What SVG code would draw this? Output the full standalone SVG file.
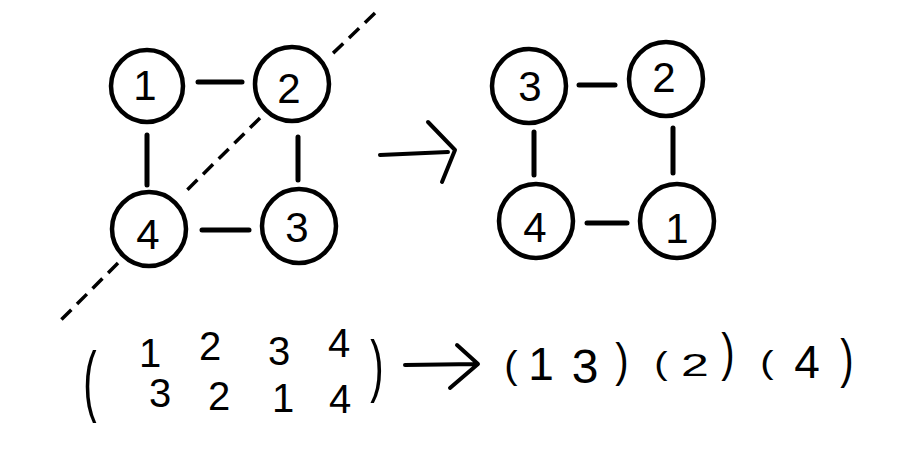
<svg xmlns="http://www.w3.org/2000/svg" width="919" height="457" viewBox="0 0 919 457">
<style>
.node{fill:none;stroke:#000;stroke-width:4.5}
.edge{stroke:#000;stroke-width:5;stroke-linecap:round;fill:none}
.dash{stroke:#000;stroke-width:3.5;stroke-dasharray:14 8;fill:none}
.arrow{stroke:#000;stroke-width:4;fill:none;stroke-linecap:round;stroke-linejoin:round}
.lbl{font-family:"Liberation Sans",Arial,sans-serif;font-size:42px;fill:#000;text-anchor:middle}
.m{font-family:"Liberation Sans",Arial,sans-serif;font-size:40px;fill:#000;text-anchor:middle}
.p{font-family:"Liberation Sans",Arial,sans-serif;font-size:40px;fill:#000;text-anchor:middle}
</style>
<rect width="919" height="457" fill="#fff"/>
<g id="connectors">
  <line class="edge" x1="198" y1="82" x2="242" y2="82"/>
  <line class="edge" x1="147" y1="135" x2="147" y2="185"/>
  <line class="edge" x1="298" y1="137" x2="298" y2="180"/>
  <line class="edge" x1="202" y1="230" x2="249" y2="230"/>
  <line class="edge" x1="579" y1="85" x2="615" y2="85"/>
  <line class="edge" x1="534" y1="132" x2="534" y2="175"/>
  <line class="edge" x1="673" y1="128" x2="673" y2="173"/>
  <line class="edge" x1="587" y1="223" x2="627" y2="223"/>
  <path class="dash" d="M375 13 L328 58"/>
  <path class="dash" d="M260 118 L182 195"/>
  <path class="dash" d="M118 263 L58 323"/>
  <path class="arrow" d="M380 155 L448 152 M428 122 L455 150 L442 182"/>
  <path class="arrow" d="M405 365 L477 364 M457 345 L478 364 L450 388"/>
</g>
<g id="n1"><circle class="node" cx="147" cy="86" r="36"/><text class="lbl" x="145" y="100">1</text></g>
<g id="n2"><circle class="node" cx="292" cy="84" r="37"/><text class="lbl" x="289" y="103">2</text></g>
<g id="n4"><circle class="node" cx="149" cy="229" r="37"/><text class="lbl" x="148" y="249">4</text></g>
<g id="n3"><circle class="node" cx="299" cy="226" r="37"/><text class="lbl" x="297" y="242">3</text></g>
<g id="r3"><circle class="node" cx="529" cy="86" r="37"/><text class="lbl" x="530" y="101">3</text></g>
<g id="r2"><circle class="node" cx="666" cy="79" r="37"/><text class="lbl" x="664" y="92">2</text></g>
<g id="r4"><circle class="node" cx="536" cy="221" r="37"/><text class="lbl" x="535" y="242">4</text></g>
<g id="r1"><circle class="node" cx="677" cy="221" r="37"/><text class="lbl" x="677" y="243">1</text></g>
<g id="matrix">
  <text class="p" transform="translate(90 407) scale(1 1.95)">(</text>
  <text class="p" transform="translate(377 389) scale(1 1.7)">)</text>
  <text class="m"><tspan x="150" y="367">1</tspan><tspan x="210" y="360">2</tspan><tspan x="279" y="365">3</tspan><tspan x="339" y="357">4</tspan></text>
  <text class="m"><tspan x="160" y="407">3</tspan><tspan x="219" y="410">2</tspan><tspan x="283" y="412">1</tspan><tspan x="340" y="413">4</tspan></text>
</g>
<g id="cycles">
  <text class="p" transform="translate(511 378) scale(1 0.95)">(</text>
  <text class="p" style="font-size:46px" x="541" y="380">1</text>
  <text class="p" style="font-size:48px" x="585" y="383">3</text>
  <text class="p" transform="translate(622 376) scale(1 1.15)">)</text>
  <text class="p" transform="translate(661 374) scale(1 0.8)">(</text>
  <text class="p" transform="translate(695 376) scale(1.25 0.8)">2</text>
  <text class="p" transform="translate(728 370) scale(1 1.3)">)</text>
  <text class="p" transform="translate(767 373) scale(1 0.8)">(</text>
  <text class="p" style="font-size:46px" x="807" y="378">4</text>
  <text class="p" transform="translate(847 377) scale(1 1.35)">)</text>
</g>
</svg>
